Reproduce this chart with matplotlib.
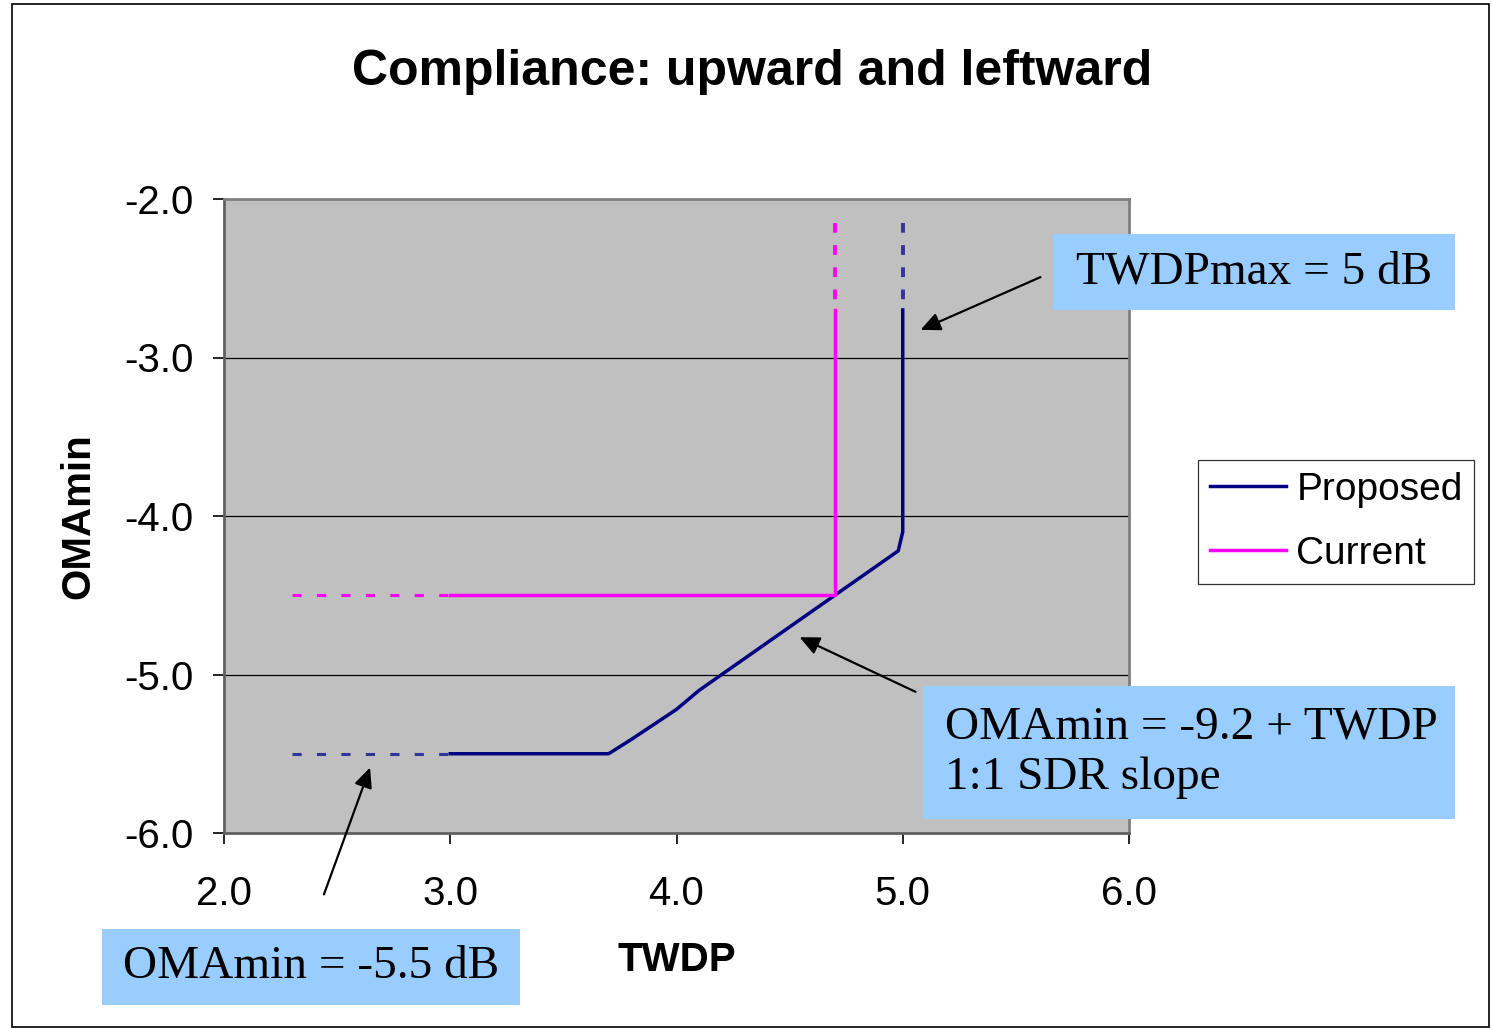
import matplotlib.pyplot as plt
from matplotlib.patches import Rectangle

# data
prop_x = [3.0, 3.7, 3.8, 4.0, 4.1, 4.2, 4.98, 5.0, 5.0]
prop_y = [-5.5, -5.5, -5.41, -5.22, -5.1, -5.0, -4.22, -4.1, -2.7]
cur_x = [3.0, 4.7, 4.7]
cur_y = [-4.5, -4.5, -2.7]

# dashed extensions (left: below floor, top: beyond limit)
prop_left_x, prop_left_y = [2.3, 3.0], [-5.5, -5.5]
prop_top_x, prop_top_y = [5.0, 5.0], [-2.15, -2.7]
cur_left_x, cur_left_y = [2.3, 3.0], [-4.5, -4.5]
cur_top_x, cur_top_y = [4.7, 4.7], [-2.15, -2.7]

xticks = [2.0, 3.0, 4.0, 5.0, 6.0]
yticks = [-2.0, -3.0, -4.0, -5.0, -6.0]

navy = '#000080'
navy_dash = '#333399'
magenta = '#FF00FF'
box_blue = '#99CCFF'

W, H = 1492, 1029
fig = plt.figure(figsize=(W / 100, H / 100), dpi=100)
fig.patches.append(Rectangle((12 / W, 2 / H), 1477 / W, 1023 / H, transform=fig.transFigure,
                             fill=False, edgecolor='black', linewidth=1.2))

ax = fig.add_axes([224 / W, 1 - 833 / H, 905 / W, 634 / H])
ax.set_facecolor('#C0C0C0')
ax.set_xlim(2.0, 6.0)
ax.set_ylim(-6.0, -2.0)
ax.set_xticks(xticks)
ax.set_yticks(yticks)
ax.set_xticklabels(['%.1f' % v for v in xticks])
ax.set_yticklabels(['%.1f' % v for v in yticks])
ax.tick_params(axis='both', direction='out', length=8, width=1.2, colors='black',
               labelsize=29)
ax.tick_params(axis='y', pad=14)
ax.tick_params(axis='x', pad=22)
for y in [-3.0, -4.0, -5.0]:
    ax.axhline(y, color='black', linewidth=0.9, zorder=1)
for side in ['top', 'right']:
    ax.spines[side].set_color('#808080')
    ax.spines[side].set_linewidth(2)
ax.spines['left'].set_color('#606060')
ax.spines['left'].set_linewidth(2)
ax.spines['bottom'].set_color('#606060')
ax.spines['bottom'].set_linewidth(2)

ax.plot(prop_x, prop_y, '-', color=navy, linewidth=2.5, label='Proposed', zorder=3)
ax.plot(cur_x, cur_y, '-', color=magenta, linewidth=2.5, label='Current', zorder=3)
ax.plot(prop_left_x, prop_left_y, color=navy_dash, linewidth=2.2, linestyle=(0, (3, 5)), zorder=3)
ax.plot(cur_left_x, cur_left_y, color=magenta, linewidth=2.2, linestyle=(0, (3, 5)), zorder=3)
ax.plot(prop_top_x, prop_top_y, color=navy_dash, linewidth=2.8, linestyle=(0, (2.5, 3.2)), zorder=3)
ax.plot(cur_top_x, cur_top_y, color=magenta, linewidth=2.8, linestyle=(0, (2.5, 3.2)), zorder=3)

for lab in ax.get_xticklabels() + ax.get_yticklabels():
    lab.set_family('Liberation Sans')

fig.text(677 / W, 1 - 960 / H, 'TWDP', ha='center', va='center',
         fontsize=29, fontweight='bold', family='Liberation Sans')
fig.text(78 / W, 1 - 516 / H, 'OMAmin', ha='center', va='center', rotation=90,
         fontsize=29, fontweight='bold', family='Liberation Sans')
fig.text(752 / W, 1 - 72 / H, 'Compliance: upward and leftward', ha='center', va='center',
         fontsize=36, fontweight='bold', family='Liberation Sans')

leg = ax.legend(loc='center left', bbox_to_anchor=(1198 / W, 1 - 522 / H),
                bbox_transform=fig.transFigure, prop={'family': 'Liberation Sans', 'size': 28},
                frameon=True, fancybox=False, handlelength=1.95, handletextpad=0.28,
                borderpad=0.3, labelspacing=0.72, borderaxespad=0)
leg.get_frame().set_edgecolor('black')
leg.get_frame().set_linewidth(0.9)


def label_box(x0, y0, x1, y1, text, tx):
    fig.patches.append(Rectangle((x0 / W, 1 - y1 / H), (x1 - x0) / W, (y1 - y0) / H,
                                 transform=fig.transFigure, facecolor=box_blue,
                                 edgecolor='none', zorder=5))
    fig.text(tx / W, 1 - (y0 + y1) / 2 / H, text, ha='left', va='center', fontsize=34,
             family='Liberation Serif', linespacing=1.25, zorder=6)


label_box(1053, 234, 1455, 310, 'TWDPmax = 5 dB', 1076)
label_box(923, 686, 1455, 819, 'OMAmin = -9.2 + TWDP\n1:1 SDR slope', 945)
label_box(102, 929, 520, 1005, 'OMAmin = -5.5 dB', 123)

arrow = dict(arrowstyle='-|>,head_length=1.2,head_width=0.55', color='black', linewidth=1.6)
ax.annotate('', xy=(918 / W, 1 - 331 / H), xytext=(1043 / W, 1 - 276 / H),
            xycoords='figure fraction', textcoords='figure fraction', arrowprops=arrow)
ax.annotate('', xy=(797 / W, 1 - 636 / H), xytext=(918 / W, 1 - 693 / H),
            xycoords='figure fraction', textcoords='figure fraction', arrowprops=arrow)
ax.annotate('', xy=(371 / W, 1 - 765 / H), xytext=(323 / W, 1 - 897 / H),
            xycoords='figure fraction', textcoords='figure fraction', arrowprops=arrow,
            annotation_clip=False)

fig.savefig('out.png', dpi=100)
